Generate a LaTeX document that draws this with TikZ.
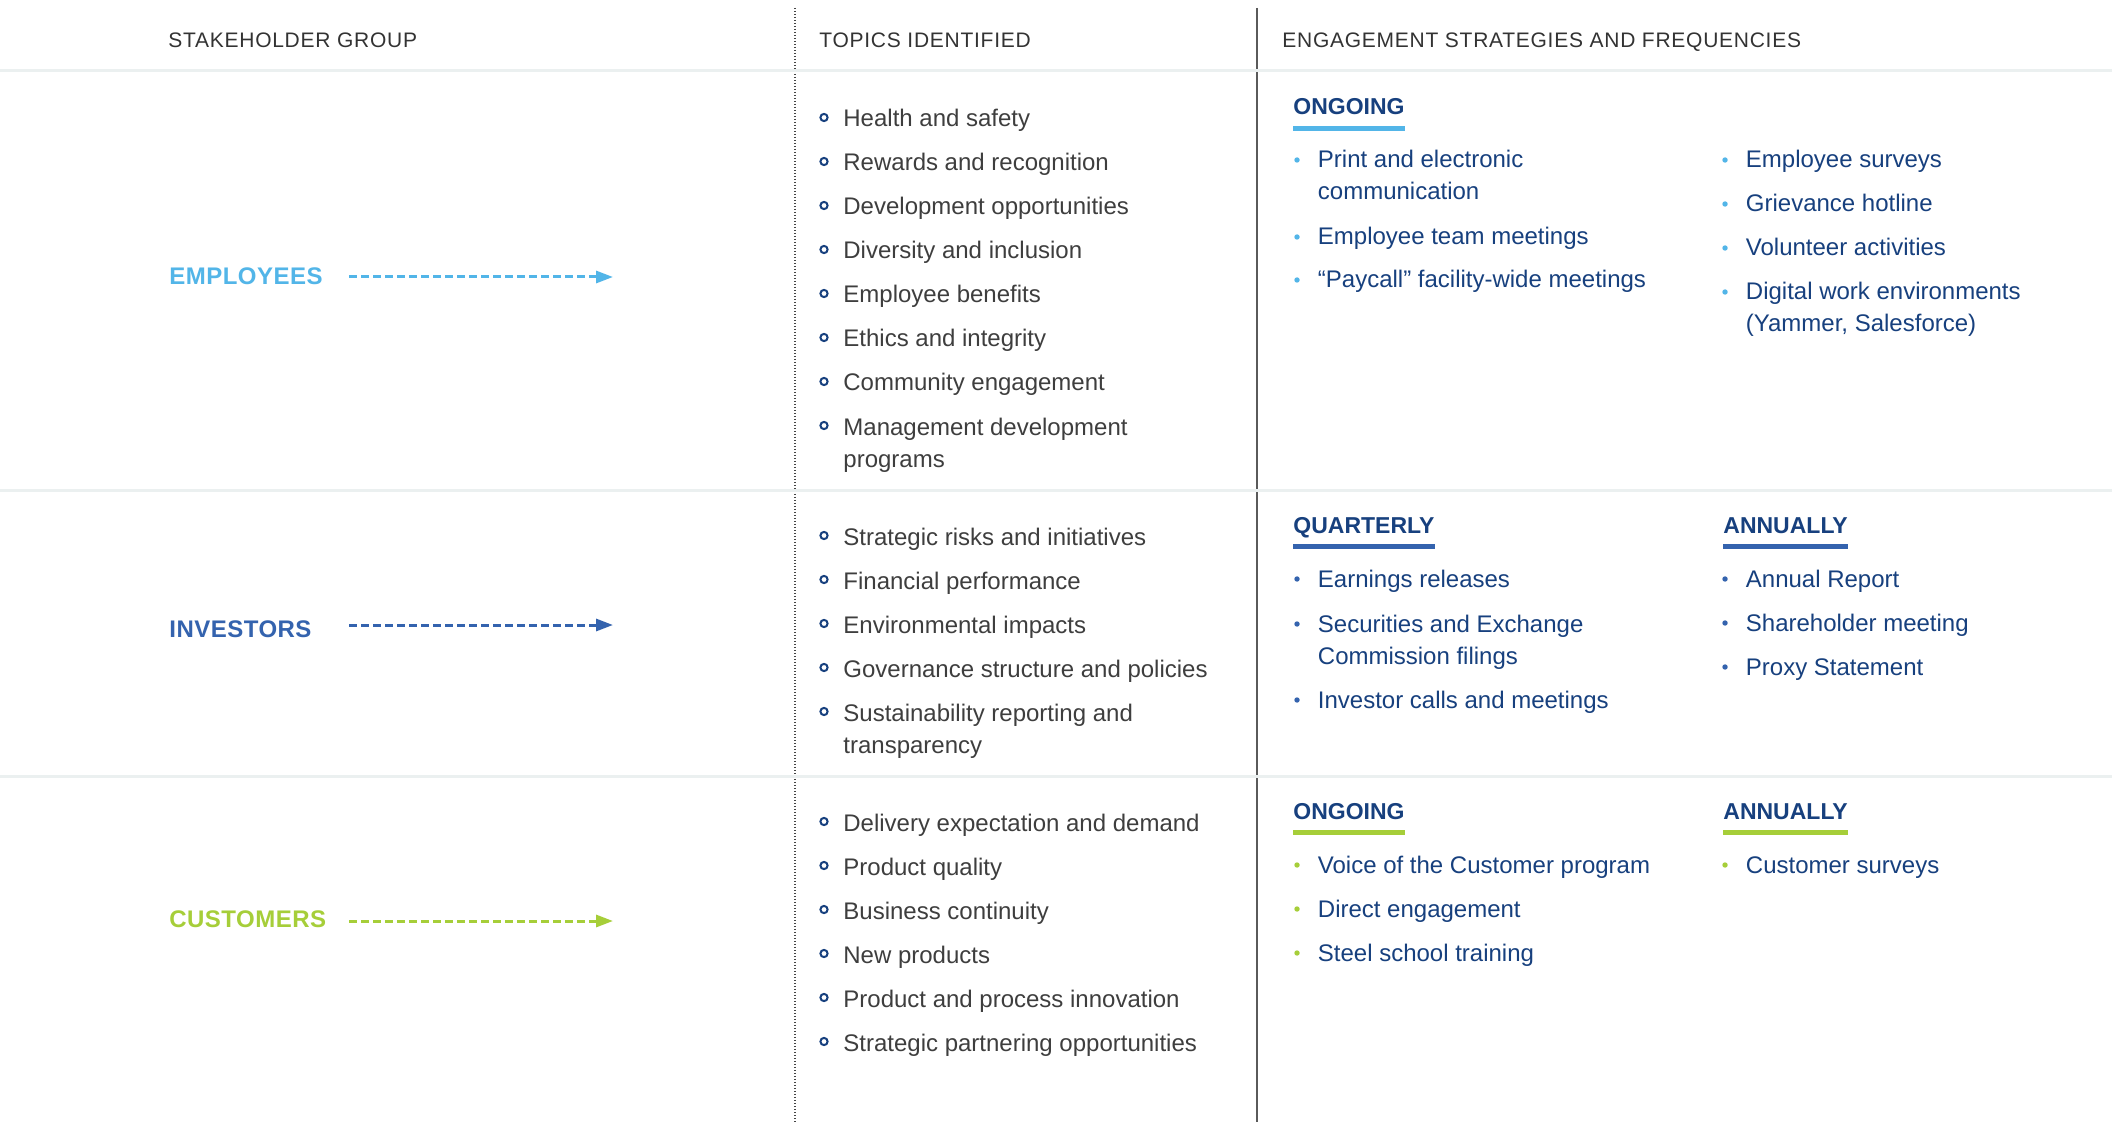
\documentclass[tikz,border=0pt]{standalone}
\usepackage{fontspec}
\setmainfont{Liberation Sans}
\newfontfamily\hdrfont{Liberation Sans}[LetterSpace=3.5]
\newfontfamily\grpfont{Liberation Sans}[LetterSpace=2]
\usetikzlibrary{arrows.meta,calc}
\definecolor{lblue}{HTML}{52B5E8}
\definecolor{mblue}{HTML}{3463AE}
\definecolor{lgreen}{HTML}{A6CE39}
\definecolor{navy}{HTML}{17407E}
\definecolor{tgray}{HTML}{3E3E3E}
\definecolor{hgray}{HTML}{333333}
\definecolor{sepgray}{HTML}{EBF0F0}
\definecolor{vgray}{HTML}{5A5A5A}
\definecolor{dgray}{HTML}{444444}
\tikzset{
  colhdr/.style={anchor=base west, inner sep=0pt, font=\hdrfont\fontsize{10.5}{12}\selectfont, text=hgray},
  grp/.style={anchor=base west, inner sep=0pt, font=\grpfont\bfseries\fontsize{12}{14}\selectfont},
  topic/.style={anchor=base west, inner sep=0pt, font=\fontsize{12}{16}\selectfont, text=tgray, align=left},
  eng/.style={anchor=base west, inner sep=0pt, font=\fontsize{12}{16}\selectfont, text=navy, align=left},
  freq/.style={anchor=base west, inner sep=0pt, font=\bfseries\fontsize{11.5}{14}\selectfont, text=navy},
  sep/.style={sepgray, line width=1.5pt},
  arr/.style={line width=1.5pt, dash pattern=on 4pt off 2pt, -{Triangle[length=8.5pt,width=6pt]}}
}
% optional arg: number of extra (wrapped) lines; base anchor sits on the last line
\newcommand\tpc[4][0]{%
  \node[topic] (#2) at (843,#3+32*#1) {#4};
  \draw[navy, line width=1pt] (824,#3-9.5) circle[radius=1.8pt];
}
\newcommand\engi[6][0]{%
  \node[eng] (#2) at (#3+20.5,#4+32*#1) {#6};
  \fill[#5] (#3,#4-8) circle[radius=1.35pt];
}
\newcommand\freqhd[5]{%
  \node[freq] (#1) at (#2,#3) {#5};
  \fill[#4] ($(#1.base west)+(0,11)$) rectangle ($(#1.base east)+(0,16)$);
}
\begin{document}
\begin{tikzpicture}[x=0.5pt, y=-0.5pt]
\useasboundingbox (0,0) rectangle (2112,1122);
\fill[white] (0,0) rectangle (2112,1122);
% vertical rules
\draw[dgray, line width=0.6pt, dash pattern=on 0.6pt off 0.9pt] (795,8) -- (795,1122);
\draw[vgray, line width=0.8pt] (1257,8) -- (1257,1122);
% horizontal separators
\draw[sep] (0,71) -- (2112,71);
\draw[sep] (0,490.5) -- (2112,490.5);
\draw[sep] (0,776) -- (2112,776);
% column headers
\node[colhdr] (h1) at (168,48) {STAKEHOLDER GROUP};
\node[colhdr] (h2) at (819,48) {TOPICS IDENTIFIED};
\node[colhdr] (h3) at (1282,48) {ENGAGEMENT STRATEGIES AND FREQUENCIES};
% stakeholder groups
\node[grp, text=lblue] (emp) at (169,285) {EMPLOYEES};
\node[grp, text=mblue] (inv) at (169,637) {INVESTORS};
\node[grp, text=lgreen] (cus) at (169,927) {CUSTOMERS};
\coordinate (empS) at (349,277); \coordinate (empT) at (613,277);
\coordinate (invS) at (349,625); \coordinate (invT) at (613,625);
\coordinate (cusS) at (349,921); \coordinate (cusT) at (613,921);
\draw[arr, lblue] (empS) -- (empT);
\draw[arr, mblue] (invS) -- (invT);
\draw[arr, lgreen] (cusS) -- (cusT);
% topics: employees
\tpc{t1}{127}{Health and safety}
\tpc{t2}{171}{Rewards and recognition}
\tpc{t3}{215}{Development opportunities}
\tpc{t4}{259}{Diversity and inclusion}
\tpc{t5}{303}{Employee benefits}
\tpc{t6}{347}{Ethics and integrity}
\tpc{t7}{391}{Community engagement}
\tpc[1]{t8}{435}{Management development\\programs}
% topics: investors
\tpc{t9}{545}{Strategic risks and initiatives}
\tpc{t10}{589}{Financial performance}
\tpc{t11}{633}{Environmental impacts}
\tpc{t12}{677}{Governance structure and policies}
\tpc[1]{t13}{721}{Sustainability reporting and\\transparency}
% topics: customers
\tpc{t14}{831}{Delivery expectation and demand}
\tpc{t15}{875}{Product quality}
\tpc{t16}{919}{Business continuity}
\tpc{t17}{963}{New products}
\tpc{t18}{1007}{Product and process innovation}
\tpc{t19}{1051}{Strategic partnering opportunities}
% engagement: employees
\freqhd{f1}{1293}{115}{lblue}{ONGOING}
\engi[1]{e1}{1297}{168}{lblue}{Print and electronic\\communication}
\engi{e2}{1297}{245}{lblue}{Employee team meetings}
\engi{e3}{1297}{288}{lblue}{“Paycall” facility-wide meetings}
\engi{e4}{1725}{168}{lblue}{Employee surveys}
\engi{e5}{1725}{212}{lblue}{Grievance hotline}
\engi{e6}{1725}{256}{lblue}{Volunteer activities}
\engi[1]{e7}{1725}{300}{lblue}{Digital work environments\\(Yammer, Salesforce)}
% engagement: investors
\freqhd{f2}{1293}{533}{mblue}{QUARTERLY}
\freqhd{f3}{1723}{533}{mblue}{ANNUALLY}
\engi{e8}{1297}{587}{mblue}{Earnings releases}
\engi[1]{e9}{1297}{632}{mblue}{Securities and Exchange\\Commission filings}
\engi{e10}{1297}{708}{mblue}{Investor calls and meetings}
\engi{e11}{1725}{587}{mblue}{Annual Report}
\engi{e12}{1725}{631}{mblue}{Shareholder meeting}
\engi{e13}{1725}{675}{mblue}{Proxy Statement}
% engagement: customers
\freqhd{f4}{1293}{819}{lgreen}{ONGOING}
\freqhd{f5}{1723}{819}{lgreen}{ANNUALLY}
\engi{e14}{1297}{873}{lgreen}{Voice of the Customer program}
\engi{e15}{1297}{917}{lgreen}{Direct engagement}
\engi{e16}{1297}{961}{lgreen}{Steel school training}
\engi{e17}{1725}{873}{lgreen}{Customer surveys}
\end{tikzpicture}
\end{document}
